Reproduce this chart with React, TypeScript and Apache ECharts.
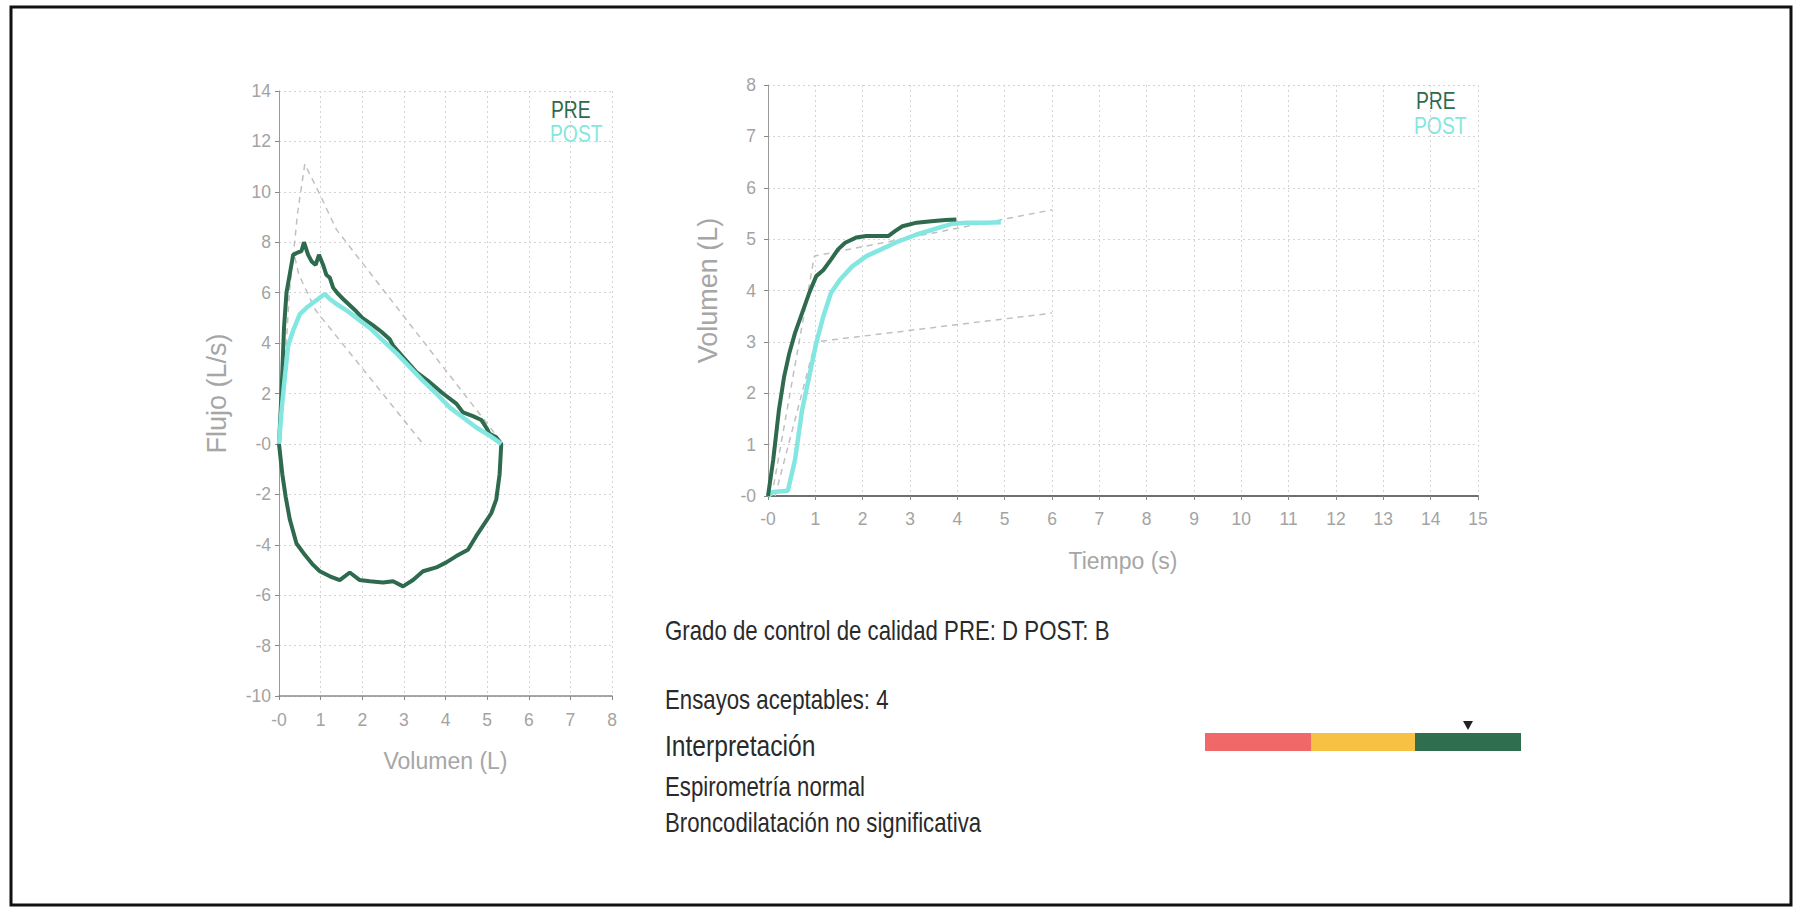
import React, { useEffect, useRef } from "react";
import * as echarts from "echarts";

// ---- Flow-volume (left) ----
const FV_PRE_EXP: number[][] = [
  [0, 0], [0.06, 2.0], [0.12, 4.6], [0.18, 6.0], [0.26, 6.75], [0.34, 7.5], [0.46, 7.6], [0.54, 7.65],
  [0.6, 8.0], [0.7, 7.5], [0.78, 7.25], [0.88, 7.1], [0.96, 7.5], [1.06, 7.1], [1.14, 6.7], [1.22, 6.6],
  [1.3, 6.2], [1.42, 5.95], [1.54, 5.75], [1.7, 5.5], [1.86, 5.25], [2.0, 5.0], [2.26, 4.7], [2.46, 4.45],
  [2.66, 4.15], [2.74, 3.9], [2.98, 3.45], [3.3, 2.85], [3.62, 2.45], [3.94, 2.0], [4.26, 1.6], [4.42, 1.25],
  [4.66, 1.1], [4.86, 0.95], [4.98, 0.65], [5.06, 0.4], [5.22, 0.26], [5.34, 0],
];
const FV_PRE_INSP: number[][] = [
  [5.34, 0], [5.3, -1.2], [5.22, -2.2], [5.1, -2.75], [4.9, -3.25], [4.74, -3.65], [4.54, -4.2], [4.26, -4.45],
  [4.02, -4.7], [3.78, -4.9], [3.46, -5.05], [3.22, -5.4], [2.98, -5.65], [2.74, -5.45], [2.5, -5.5],
  [2.18, -5.45], [1.94, -5.4], [1.7, -5.1], [1.46, -5.4], [1.22, -5.25], [0.98, -5.05], [0.82, -4.8],
  [0.62, -4.4], [0.42, -3.95], [0.26, -3.0], [0.16, -2.1], [0.08, -1.2], [0, 0],
];
const FV_POST_EXP: number[][] = [
  [0, 0], [0.06, 1.3], [0.14, 2.65], [0.22, 3.9], [0.34, 4.5], [0.5, 5.15], [0.66, 5.4], [0.82, 5.6],
  [0.94, 5.75], [1.1, 5.95], [1.22, 5.75], [1.38, 5.55], [1.62, 5.3], [1.86, 5.0], [2.18, 4.6], [2.5, 4.1],
  [2.82, 3.6], [3.14, 3.05], [3.46, 2.5], [3.78, 2.0], [4.1, 1.45], [4.42, 1.05], [4.74, 0.65], [5.06, 0.33],
  [5.34, 0],
];
const FV_PRED_UPPER: number[][] = [
  [0, 0], [0.1, 2], [0.25, 6], [0.45, 9.2], [0.62, 11.1], [0.98, 9.9], [1.38, 8.5], [5.38, 0],
];
const FV_PRED_LOWER: number[][] = [[0.38, 7.4], [0.48, 6.7], [0.88, 5.3], [3.46, 0]];

// ---- Volume-time (right) ----
const VT_PRE: number[][] = [
  [0, 0], [0.11, 0.7], [0.23, 1.67], [0.34, 2.32], [0.45, 2.78], [0.57, 3.17], [0.72, 3.56], [0.87, 3.95],
  [1.02, 4.28], [1.17, 4.4], [1.33, 4.6], [1.48, 4.8], [1.63, 4.93], [1.86, 5.03], [2.08, 5.06], [2.39, 5.06],
  [2.54, 5.06], [2.69, 5.16], [2.84, 5.25], [3.14, 5.32], [3.45, 5.35], [3.75, 5.37], [3.98, 5.38],
];
const VT_POST: number[][] = [
  [0, 0], [0.1, 0.08], [0.42, 0.1], [0.57, 0.7], [0.72, 1.67], [0.87, 2.32], [1.02, 2.98], [1.17, 3.5],
  [1.33, 3.95], [1.52, 4.21], [1.78, 4.47], [2.08, 4.67], [2.39, 4.8], [2.69, 4.93], [3.14, 5.09], [3.6, 5.22],
  [3.9, 5.3], [4.2, 5.32], [4.58, 5.32], [4.92, 5.33],
];
const VT_PRED_UPPER: number[][] = [[0.08, 0], [0.98, 4.67], [6.0, 5.57]];
const VT_PRED_LOWER: number[][] = [[0.15, 0], [1.0, 3.0], [6.0, 3.56]];

// ---- Text ----
const SERIES_NAMES = ["PRE", "POST"];
const INFO_LINES = [
  "Grado de control de calidad PRE: D POST: B",
  "Ensayos aceptables: 4",
  "Interpretación",
  "Espirometría normal",
  "Broncodilatación no significativa",
];
const GAUGE_COLORS = ["#f06868", "#f7c143", "#2f6f4f"];

const FONT = "'Liberation Sans', Arial, sans-serif";
const PRE_COLOR = "#2e6a4d";
const POST_COLOR = "#84e6e0";
const TICK_COLOR = "#a3a3a3";
const NAME_COLOR = "#a6a6a6";

const zeroFmt = (v: number) => (v === 0 ? "-0" : String(v));

function App() {
  const ref = useRef<HTMLDivElement>(null);
  useEffect(() => {
    if (!ref.current) return;
    const chart = echarts.init(ref.current, null, { renderer: "svg" });
    const splitLine = { show: true, lineStyle: { color: "#d4d4d4", width: 1, type: [2, 3] as any } };
    const axisLabel = (margin: number) => ({
      formatter: zeroFmt,
      fontFamily: FONT,
      fontSize: 17.5,
      color: TICK_COLOR,
      margin,
    });
    const nameStyle = (size: number) => ({ fontFamily: FONT, fontSize: size, color: NAME_COLOR });
    const line = (
      data: number[][],
      gi: number,
      color: string,
      width: number,
      dashed = false,
      z = 2
    ) => ({
      type: "line",
      xAxisIndex: gi,
      yAxisIndex: gi,
      data,
      showSymbol: false,
      symbol: "none",
      z,
      lineStyle: { color, width, type: dashed ? [6, 5] : "solid" },
      silent: true,
    });
    const txt = (text: string, x: number, y: number, size: number, fill: string, sx: number) => ({
      type: "text",
      x,
      y,
      scaleX: sx,
      scaleY: 1,
      style: {
        text,
        x: 0,
        y: 0,
        font: `${size}px ${FONT}`,
        fill,
        textVerticalAlign: "middle",
        verticalAlign: "middle",
      },
    });

    const gaugeX = [1205, 1311, 1415, 1521];
    const option: any = {
      animation: false,
      backgroundColor: "#ffffff",
      grid: [
        { left: 279, top: 91, width: 333, height: 605 },
        { left: 768, top: 85, width: 710, height: 411 },
      ],
      xAxis: [
        {
          type: "value", gridIndex: 0, min: 0, max: 8, interval: 1,
          name: "Volumen (L)", nameLocation: "middle", nameGap: 53, nameTextStyle: nameStyle(23),
          axisLine: { show: true, onZero: false, lineStyle: { color: "#8a8a8a", width: 1.5 } },
          axisTick: { show: true, length: 4, lineStyle: { color: "#8a8a8a" } },
          axisLabel: axisLabel(15),
          splitLine,
        },
        {
          type: "value", gridIndex: 1, min: 0, max: 15, interval: 1,
          name: "Tiempo (s)", nameLocation: "middle", nameGap: 53, nameTextStyle: nameStyle(23),
          axisLine: { show: true, onZero: false, lineStyle: { color: "#6f6f6f", width: 1.8 } },
          axisTick: { show: true, length: 4, lineStyle: { color: "#8a8a8a" } },
          axisLabel: axisLabel(14),
          splitLine,
        },
      ],
      yAxis: [
        {
          type: "value", gridIndex: 0, min: -10, max: 14, interval: 2,
          name: "Flujo (L/s)", nameLocation: "middle", nameGap: 49, nameTextStyle: nameStyle(27),
          axisLine: { show: true, onZero: false, lineStyle: { color: "#9a9a9a", width: 1 } },
          axisTick: { show: true, length: 4, lineStyle: { color: "#8a8a8a" } },
          axisLabel: axisLabel(8),
          splitLine,
        },
        {
          type: "value", gridIndex: 1, min: 0, max: 8, interval: 1,
          name: "Volumen (L)", nameLocation: "middle", nameGap: 47, nameTextStyle: nameStyle(27),
          axisLine: { show: true, onZero: false, lineStyle: { color: "#9a9a9a", width: 1 } },
          axisTick: { show: true, length: 4, lineStyle: { color: "#8a8a8a" } },
          axisLabel: axisLabel(12),
          splitLine,
        },
      ],
      series: [
        line(FV_PRED_UPPER, 0, "#c0c0c0", 1.5, true, 1),
        line(FV_PRED_LOWER, 0, "#c0c0c0", 1.5, true, 1),
        line(FV_PRE_EXP.concat(FV_PRE_INSP), 0, PRE_COLOR, 4),
        line(FV_POST_EXP, 0, POST_COLOR, 4.5, false, 3),
        line(VT_PRED_UPPER, 1, "#c0c0c0", 1.5, true, 1),
        line(VT_PRED_LOWER, 1, "#c0c0c0", 1.5, true, 1),
        line(VT_POST, 1, POST_COLOR, 4.5, false, 2),
        line(VT_PRE, 1, PRE_COLOR, 4, false, 3),
      ],
      graphic: [
        {
          type: "rect", shape: { x: 11, y: 7, width: 1780, height: 898 },
          style: { fill: "none", stroke: "#111", lineWidth: 3 }, z: 10,
        },
        txt(SERIES_NAMES[0], 551, 110, 23, PRE_COLOR, 0.84),
        txt(SERIES_NAMES[1], 550, 134, 23, POST_COLOR, 0.84),
        txt(SERIES_NAMES[0], 1416, 101, 23, PRE_COLOR, 0.84),
        txt(SERIES_NAMES[1], 1414, 126, 23, POST_COLOR, 0.84),
        txt(INFO_LINES[0], 665, 631, 27, "#2a2a2a", 0.823),
        txt(INFO_LINES[1], 665, 700, 27, "#2a2a2a", 0.823),
        txt(INFO_LINES[2], 665, 746, 30, "#2a2a2a", 0.82),
        txt(INFO_LINES[3], 665, 787, 27, "#2a2a2a", 0.823),
        txt(INFO_LINES[4], 665, 823, 27, "#2a2a2a", 0.823),
        ...GAUGE_COLORS.map((c, i) => ({
          type: "rect",
          shape: { x: gaugeX[i], y: 733, width: gaugeX[i + 1] - gaugeX[i], height: 18 },
          style: { fill: c },
        })),
        {
          type: "polygon",
          shape: { points: [[1463, 721], [1473, 721], [1468, 730]] },
          style: { fill: "#222" },
        },
      ],
    };
    chart.setOption(option);
    return () => chart.dispose();
  }, []);
  return (
    <div
      ref={ref}
      style={{ position: "absolute", left: 0, top: 0, width: 1800, height: 913, background: "#fff" }}
    />
  );
}

export default App;
